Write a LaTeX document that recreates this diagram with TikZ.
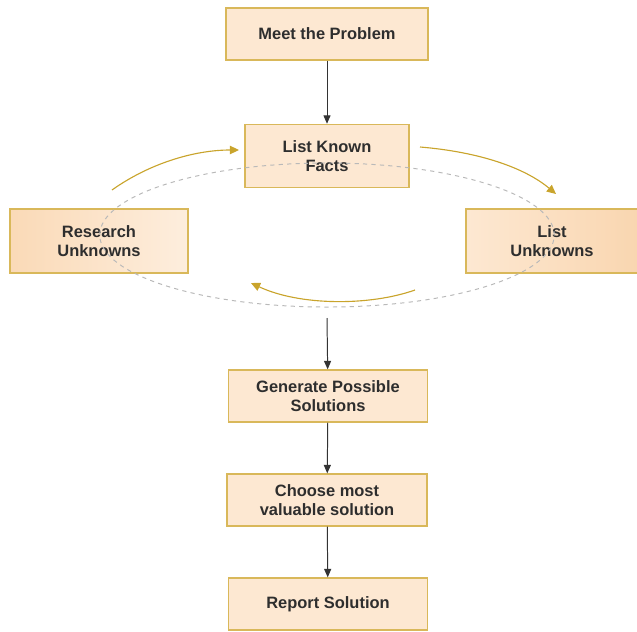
\documentclass[tikz,border=0pt]{standalone}
\usepackage{fontspec}
\setmainfont{Liberation Sans}
\usepackage{tikz}
\usetikzlibrary{arrows.meta}
\definecolor{boxfill}{HTML}{FDE8D2}
\definecolor{boxline}{HTML}{D9B85A}
\definecolor{loopgold}{HTML}{C9A42C}
\definecolor{txtgray}{HTML}{2E2E2E}
\definecolor{deepfill}{HTML}{F9D6B0}

\begin{document}
\begin{tikzpicture}[
      x=0.025cm, y=-0.025cm,
      stepbox/.style={
        draw=boxline, fill=boxfill, line width=0.9pt,
        inner sep=0pt, align=center,
        font=\bfseries\fontsize{11.7}{13.7}\selectfont, text=txtgray
      },
      flow/.style={-{Triangle[length=6pt,width=5pt]}, line width=0.7pt, black!80},
      loop/.style={-{Triangle[length=6.5pt,width=6pt]}, line width=0.8pt, loopgold}
    ]
      \useasboundingbox (0,0) rectangle (637,631);

      \node[stepbox, minimum width=5.05cm, minimum height=1.3cm] (meet) at (327,34){Meet the Problem};
      \node[stepbox, minimum width=4.1cm, minimum height=1.58cm] (known) at (327,156){List Known\\Facts};
      \node[stepbox, minimum width=4.45cm, minimum height=1.6cm,
        left color=deepfill!80!boxfill, right color=boxfill!75] (research) at (99,241){Research\\Unknowns};
      \node[stepbox, minimum width=4.3cm, minimum height=1.6cm,
        left color=boxfill, right color=deepfill] (unknowns) at (552,241){List\\Unknowns};
      \node[stepbox, minimum width=4.98cm, minimum height=1.3cm] (generate) at (328,396){Generate Possible\\Solutions};
      \node[stepbox, minimum width=5cm, minimum height=1.3cm] (choose) at (327,500){Choose most\\valuable solution};
      \node[stepbox, minimum width=4.98cm, minimum height=1.3cm] (report) at (328,604){Report Solution};

      % dashed cycle behind the loop
      \draw[dashed, gray!55, line width=0.7pt] (327,235) ellipse (5.68cm and 1.8cm);

      \coordinate (r0) at (112,190);
      \coordinate (k0) at (239,150);
      \coordinate (k1) at (420,147);
      \coordinate (u0) at (556,194);
      \coordinate (u1) at (415,290);
      \coordinate (r1) at (251,283);
      \coordinate (loopout) at (327,318);

      \draw[loop] (r0) .. controls (150,163) and (195,150) .. (k0);
      \draw[loop] (k1) .. controls (480,152) and (525,168) .. (u0);
      \draw[loop] (u1) .. controls (370,306) and (300,306) .. (r1);

      \draw[flow] (meet)--(known);
      \draw[flow] (loopout)--(generate);
      \draw[flow] (generate)--(choose);
      \draw[flow] (choose)--(report);
    \end{tikzpicture}
\end{document}
